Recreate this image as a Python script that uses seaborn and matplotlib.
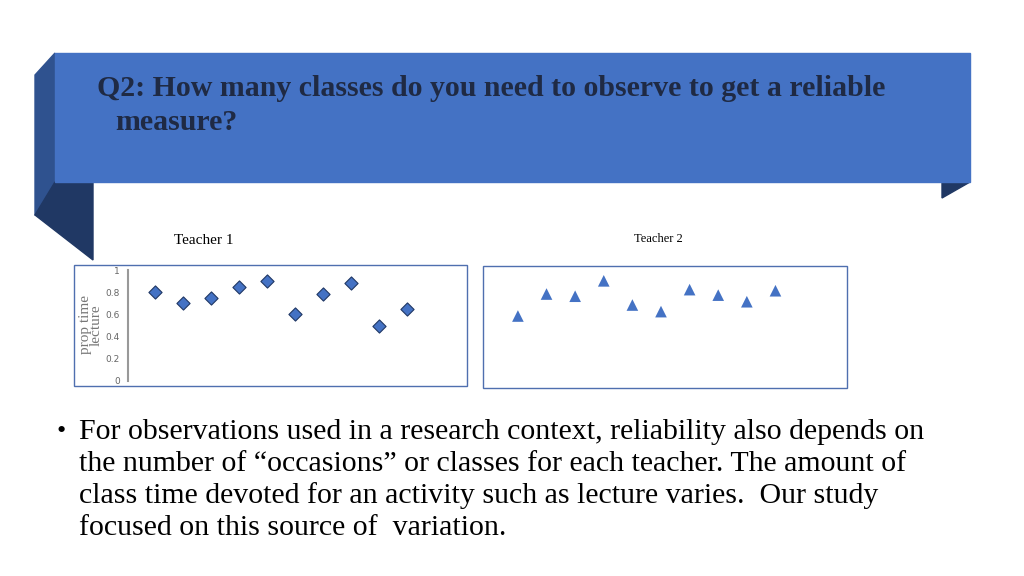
import matplotlib.pyplot as plt
import seaborn as sns
import pandas as pd
from matplotlib.patches import Rectangle, Polygon

# data
classes = list(range(1, 11))
teacher1_prop = [0.80, 0.70, 0.75, 0.85, 0.90, 0.60, 0.78, 0.88, 0.50, 0.65]
teacher2_prop = [0.60, 0.80, 0.78, 0.92, 0.70, 0.64, 0.84, 0.79, 0.73, 0.83]
y_ticks = [0, 0.2, 0.4, 0.6, 0.8, 1]

W, H = 1024, 576
fig = plt.figure(figsize=(W / 100, H / 100), dpi=100)
serif = "Liberation Serif"

def box(x0, y0, x1, y1):
    # figure fraction rect from pixel coords (top-left origin)
    return [x0 / W, 1 - y1 / H, (x1 - x0) / W, (y1 - y0) / H]

def px(x, y):
    return (x / W, 1 - y / H)

bg = fig.add_axes([0, 0, 1, 1])
bg.set_xlim(0, W)
bg.set_ylim(H, 0)
bg.axis("off")

# banner with folded ribbon ends
bg.add_patch(Polygon([(35, 75), (55, 53), (55, 215), (35, 215)], color="#2F528F"))
bg.add_patch(Polygon([(35, 215), (55, 182), (93, 182), (93, 260)], color="#203864"))
bg.add_patch(Polygon([(942, 182), (970, 182), (942, 198)], color="#203864"))
bg.add_patch(Rectangle((55, 53), 915, 129, color="#4472C4"))

fig.text(*px(97, 88), "Q2: How many classes do you need to observe to get a reliable",
         fontsize=21.5, fontweight="bold", family=serif, color="#1F2A44", va="center")
fig.text(*px(115, 122), "measure?", fontsize=21.5, fontweight="bold", family=serif,
         color="#1F2A44", va="center")

fig.text(*px(174, 240), "Teacher 1", fontsize=11, family=serif, va="center")
fig.text(*px(634, 239), "Teacher 2", fontsize=9, family=serif, va="center")

# chart frames
bg.add_patch(Rectangle((74, 265), 393, 121, fill=False, ec="#4F6FAF", lw=1))
bg.add_patch(Rectangle((483, 266), 364, 122, fill=False, ec="#4F6FAF", lw=1))

# teacher 1 scatter
ax1 = fig.add_axes(box(128, 270, 465, 381))
df1 = pd.DataFrame({"class": classes, "prop": teacher1_prop})
sns.scatterplot(data=df1, x="class", y="prop", marker="D", s=45, color="#4472C4",
                edgecolor="#203864", linewidth=0.8, ax=ax1)
ax1.set_xlim(0.04, 12.07)
ax1.set_ylim(0, 1)
ax1.set_yticks(y_ticks)
ax1.set_yticklabels(["0", "0.2", "0.4", "0.6", "0.8", "1"])
ax1.set_xticks([])
ax1.tick_params(axis="y", length=0, labelsize=6.5, colors="#666666", pad=6)
for s in ["top", "right", "bottom"]:
    ax1.spines[s].set_visible(False)
ax1.spines["left"].set_color("#999999")
ax1.spines["left"].set_linewidth(1.5)
ax1.set_xlabel("")
ax1.set_ylabel("")
ax1.patch.set_alpha(0)
fig.text(*px(91, 325), "prop time\nlecture", rotation=90, fontsize=11, family=serif,
         color="#777777", ha="center", va="center", linespacing=0.8)

# teacher 2 scatter
ax2 = fig.add_axes(box(483, 266, 847, 388))
df2 = pd.DataFrame({"class": classes, "prop": teacher2_prop})
sns.scatterplot(data=df2, x="class", y="prop", marker="^", s=70, color="#4472C4",
                edgecolor="none", ax=ax2)
ax2.set_xlim(-0.22, 12.5)
ax2.set_ylim(-0.055, 1.055)
ax2.axis("off")

# bullet text
lines = ["For observations used in a research context, reliability also depends on",
         "the number of \u201coccasions\u201d or classes for each teacher. The amount of",
         "class time devoted for an activity such as lecture varies.  Our study",
         "focused on this source of  variation."]
fig.text(*px(57, 432), "\u2022", fontsize=19, family=serif, va="center")
for i, t in enumerate(lines):
    fig.text(*px(79, 432 + 32 * i), t, fontsize=21.5, family=serif, va="center")

fig.savefig("out.png", dpi=100)
